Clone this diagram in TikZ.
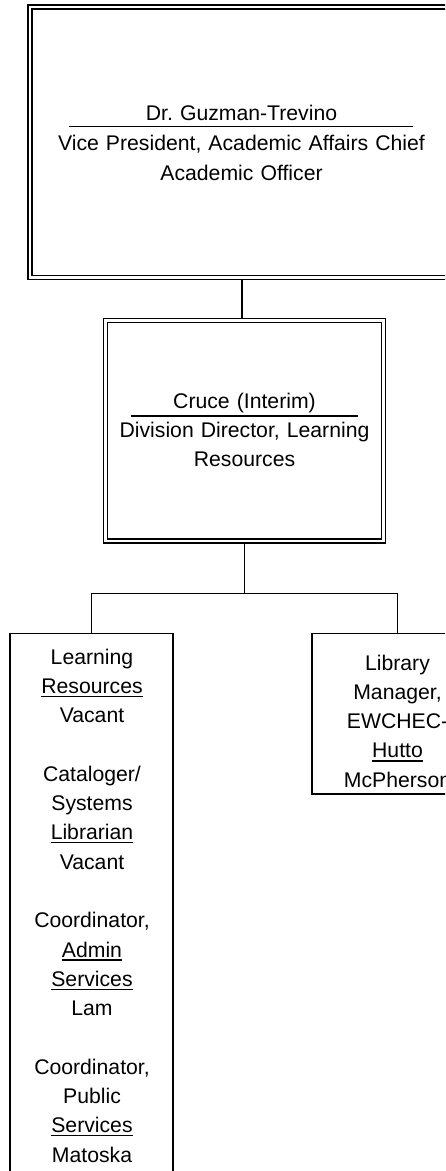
\documentclass[tikz,border=0pt]{standalone}
\usepackage{fontspec}
\setmainfont{Liberation Sans}
\usetikzlibrary{backgrounds}
\newcommand{\ulw}[1]{\leavevmode\setbox0\hbox{#1}\rlap{\rule[-3.6pt]{\wd0}{1.3pt}}\box0}
\tikzset{
  dbox/.style={draw, double, double distance=2.5pt, line width=1.5pt, inner sep=0pt},
  sbox/.style={draw, line width=1.5pt, inner sep=0pt},
  txt/.style={inner sep=0pt, align=center, anchor=base, font=\fontsize{21.2}{29.3}\selectfont\frenchspacing},
  conn/.style={line width=1.5pt},
  hrule/.style={line width=1.5pt}
}
\begin{document}
\begin{tikzpicture}[x=1pt,y=1pt]
\useasboundingbox (0,0) rectangle (445,-1171);
\clip (0,0) rectangle (445,-1171);
% boxes
\node[dbox, minimum width=424.5pt, minimum height=270.5pt] (top) at (242,-142) {};
\node[dbox, minimum width=278pt, minimum height=220.5pt] (mid) at (244.5,-430.75) {};
\node[sbox, minimum width=163.25pt, minimum height=566.5pt] (left) at (91.6,-916.75) {};
\node[sbox, minimum width=170.5pt, minimum height=160.5pt] (right) at (397.25,-713.75) {};
\coordinate (bus) at (244.5,-593.5);
% connectors
\begin{scope}[on background layer]
\fill[white] (0,0) rectangle (445,-1171);
\draw[conn] (top.south) -- (top.south |- mid.north);
\draw[conn] (mid.south) -- (mid.south |- bus);
\draw[conn] (left.north) -- (left.north |- bus) -- (right.north |- bus) -- (right.north);
\end{scope}
% texts
\node[txt, text width=420pt] (toptxt) at (241.5,-120) {Dr. Guzman-Trevino\\[0.7pt]Vice President, Academic Affairs Chief\\[0.7pt]Academic Officer};
\draw[hrule] (69,-126.7) -- (413,-126.7);
\node[txt, text width=270pt] (midtxt) at (244.5,-408) {Cruce (Interim)\\Division Director, Learning\\Resources};
\draw[hrule] (131,-416) -- (358,-416);
\node[txt, text width=160pt] (lefttxt) at (92,-664) {Learning\\\ulw{Resources}\\Vacant\\[29.3pt]Cataloger/\\Systems\\\ulw{Librarian}\\Vacant\\[29.3pt]Coordinator,\\\ulw{Admin}\\\ulw{Services}\\Lam\\[29.3pt]Coordinator,\\Public\\\ulw{Services}\\Matoska};
\node[txt, text width=165pt] (righttxt) at (397.5,-670) {Library\\Manager,\\EWCHEC-\\\ulw{Hutto}\\McPherson};
\end{tikzpicture}
\end{document}
